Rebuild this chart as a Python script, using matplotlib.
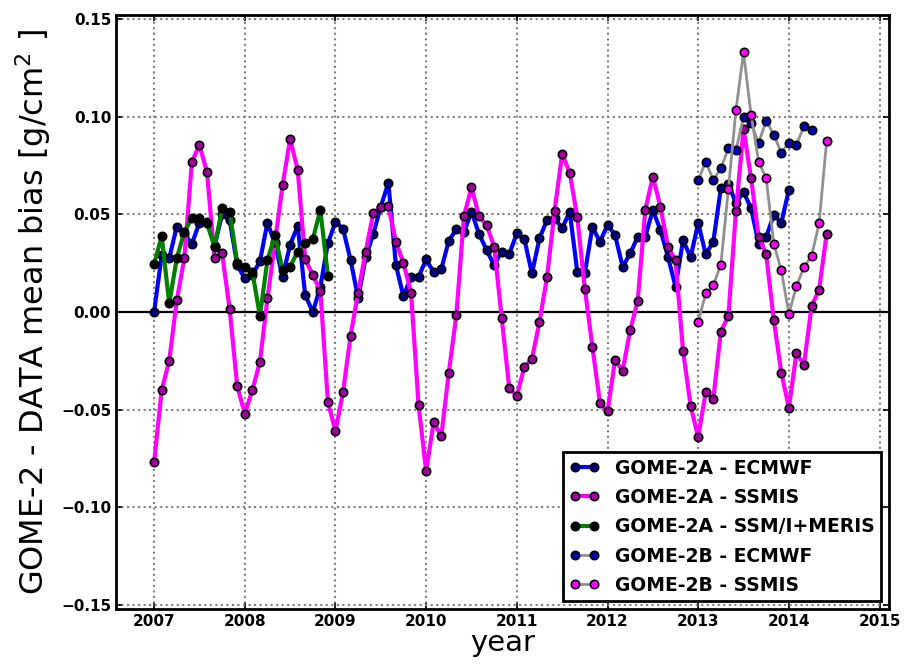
import matplotlib
matplotlib.use("Agg")
import matplotlib.pyplot as plt
import numpy as np

# monthly bias values, first point = Jan 2007
a_ecmwf = [0.0, 0.029, 0.0275, 0.0438, 0.040, 0.035, 0.0458, 0.046, 0.034, 0.050, 0.047, 0.024,
           0.0173, 0.019, 0.026, 0.0458, 0.035, 0.018, 0.0345, 0.0441, 0.0087, 0.0, 0.013, 0.0352,
           0.0463, 0.0426, 0.0267, 0.007, 0.028, 0.040, 0.054, 0.0663, 0.024, 0.008, 0.018, 0.018,
           0.027, 0.0204, 0.0219, 0.0366, 0.0424, 0.041, 0.0514, 0.040, 0.0318, 0.024, 0.031, 0.0297,
           0.0403, 0.0373, 0.0198, 0.0378, 0.0472, 0.048, 0.0429, 0.0514, 0.0207, 0.0198, 0.0437, 0.036,
           0.0446, 0.0395, 0.0232, 0.030, 0.0386, 0.0386, 0.0523, 0.042, 0.0284, 0.013, 0.0368, 0.028,
           0.0457, 0.0296, 0.036, 0.0634, 0.0656, 0.0557, 0.0616, 0.0531, 0.0351, 0.0385, 0.0497, 0.0457,
           0.0625]
a_ssmis = [-0.077, -0.040, -0.025, 0.006, 0.0275, 0.077, 0.0856, 0.0716, 0.0275, 0.030, 0.0015, -0.038,
           -0.052, -0.040, -0.0255, 0.007, 0.036, 0.065, 0.0886, 0.073, 0.027, 0.019, 0.011, -0.046,
           -0.061, -0.041, -0.012, 0.010, 0.031, 0.0506, 0.054, 0.0544, 0.036, 0.025, 0.010, -0.0477,
           -0.0814, -0.0562, -0.0636, -0.031, -0.0014, 0.049, 0.064, 0.049, 0.0446, 0.0335, -0.003, -0.039,
           -0.043, -0.028, -0.024, -0.005, 0.018, 0.052, 0.081, 0.0714, 0.0485, 0.012, -0.0178, -0.0465,
           -0.0508, -0.0246, -0.030, -0.0092, 0.0058, 0.0523, 0.0694, 0.054, 0.0335, 0.0265, -0.020, -0.048,
           -0.064, -0.041, -0.0445, -0.010, -0.002, 0.052, 0.0937, 0.0685, 0.0385, 0.0296, -0.004, -0.031,
           -0.049, -0.021, -0.027, 0.003, 0.0115, 0.040]
a_meris = [0.0246, 0.039, 0.0044, 0.0275, 0.0412, 0.048, 0.048, 0.0455, 0.0335, 0.0531, 0.0515, 0.025,
           0.0232, 0.0207, -0.0021, 0.0267, 0.0395, 0.0215, 0.0232, 0.031, 0.0352, 0.0373, 0.0523, 0.0185]
# GOME-2B, first point = Jan 2013
b_ecmwf = [0.0676, 0.077, 0.0676, 0.0736, 0.0839, 0.083, 0.0998, 0.097, 0.0865, 0.0981, 0.0908, 0.0817,
           0.0868, 0.0856, 0.0954, 0.093]
b_ssmis = [-0.005, 0.0096, 0.0137, 0.0243, 0.063, 0.1036, 0.133, 0.101, 0.077, 0.0685, 0.035, 0.0214,
           -0.0009, 0.0132, 0.0231, 0.0286, 0.0454, 0.0877]

def months(start, n):
    return start + np.arange(n) / 12.0

fig = plt.figure(figsize=(9.1, 6.64), dpi=100)
ax = fig.add_axes([0.1275, 0.083, 0.849, 0.894])

ax.axhline(0, color='k', lw=1.6, zorder=2)
ax.plot(months(2007, len(a_ecmwf)), a_ecmwf, '-o', color='#0000ff', lw=3, ms=6,
        mfc='#000080', mec='k', mew=1.2, label='GOME-2A - ECMWF', zorder=3)
ax.plot(months(2007, len(a_ssmis)), a_ssmis, '-o', color='#ff00ff', lw=3, ms=6,
        mfc='#a000a0', mec='k', mew=1.2, label='GOME-2A - SSMIS', zorder=3)
ax.plot(months(2007, len(a_meris)), a_meris, '-o', color='#008000', lw=3, ms=6,
        mfc='k', mec='k', mew=1.2, label='GOME-2A - SSM/I+MERIS', zorder=3)
ax.plot(months(2013, len(b_ecmwf)), b_ecmwf, '-o', color='#909090', lw=2, ms=6,
        mfc='#0000b0', mec='k', mew=1.2, label='GOME-2B - ECMWF', zorder=4)
ax.plot(months(2013, len(b_ssmis)), b_ssmis, '-o', color='#909090', lw=2, ms=6,
        mfc='#ff00ff', mec='k', mew=1.2, label='GOME-2B - SSMIS', zorder=4)

ax.set_xlim(2006.58, 2015.1)
ax.set_ylim(-0.152, 0.152)
years = list(range(2007, 2016))
ax.set_xticks(years)
ax.set_xticklabels([str(y) for y in years])
yt = [-0.15, -0.10, -0.05, 0.0, 0.05, 0.10, 0.15]
ax.set_yticks(yt)
ax.set_yticklabels(['%.2f' % v if v >= 0 else '\u2212%.2f' % -v for v in yt])
ax.grid(True, linestyle=':', color='0.5', lw=1.5)
ax.tick_params(direction='in', length=4, width=1.2, labelsize=11, top=True, right=True)
for lab in ax.get_xticklabels() + ax.get_yticklabels():
    lab.set_fontweight('bold')
for s in ax.spines.values():
    s.set_linewidth(2)

ax.set_xlabel('year', fontsize=21, labelpad=0)
ax.set_ylabel('GOME-2 - DATA mean bias [g/cm$^2$ ]', fontsize=23, labelpad=6)

leg = ax.legend(loc='lower right', numpoints=2, fancybox=False, framealpha=1,
                edgecolor='k', prop={'size': 13.5, 'weight': 'bold'}, handlelength=1.6,
                borderaxespad=0.4, labelspacing=0.55, borderpad=0.35)
leg.get_frame().set_linewidth(2)

fig.savefig('out.png', dpi=100)
